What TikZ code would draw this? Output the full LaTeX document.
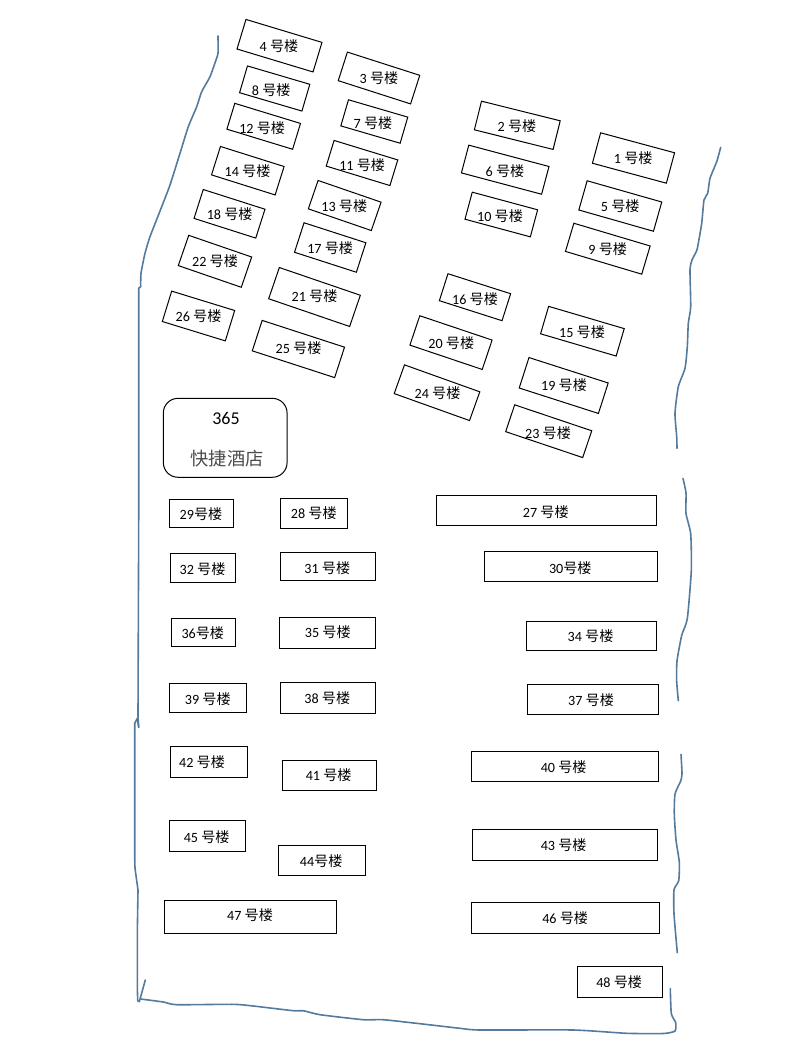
\documentclass[tikz,border=0pt]{standalone}
\usepackage{fontspec}
\setmainfont{Carlito}
\newfontfamily\cjk{Noto Sans CJK SC}
\newcommand{\hao}{{\cjk 号楼}}
\definecolor{inkblue}{HTML}{547A9E}
\tikzset{
  building/.style={draw, line width=0.75pt, inner sep=0pt},
  tag/.style={inner sep=0pt, font=\fontsize{10.6pt}{12pt}\selectfont},
  hoteltag/.style={inner sep=0pt, font=\fontsize{13.5pt}{16pt}\selectfont},
  boundary/.style={inkblue, line width=1.2pt, line join=round, line cap=round},
}

\begin{document}
\begin{tikzpicture}[x=0.75pt, y=-0.75pt]
  \useasboundingbox (0,0) rectangle (793,1057);

  % tilted buildings: name/centre/width/height/angle/label position/label
  \foreach \n/\x/\y/\w/\h/\a/\lx/\ly/\txt in {
    1/633.5/158/76.6/31.5/15.1/633.3/158.3/{1 \hao},
    2/517.3/125.3/81.1/29.5/14/517/126/{2 \hao},
    3/379/78/76/30/17.8/379/78.3/{3 \hao},
    4/279.5/45.7/79.4/30.9/16.8/279/45.7/{4 \hao},
    5/620.3/206/77.6/30.4/15.9/620.3/206.3/{5 \hao},
    6/505.2/169.7/83/28.7/14.9/505/171/{6 \hao},
    7/374.3/121.5/61.8/27.2/16.3/373/122.7/{7 \hao},
    8/274.7/88.5/65/27.9/16.4/271.3/90/{8 \hao},
    9/607.8/248.7/79.6/29.4/16.6/607.8/249.3/{9 \hao},
    10/501.3/214.5/67.7/28/15.1/500/216.3/{10 \hao},
    11/362/163/66.6/26.8/17/362.2/165/{11 \hao},
    12/263.7/126.3/68.7/27/17/262.2/127.7/{12 \hao},
    13/344.7/205.5/66.6/30/19/344.3/206/{13 \hao},
    14/247.8/170.7/66.7/29.8/17.5/247.5/171/{14 \hao},
    15/582.4/331.2/78.8/28.6/16.4/582/332/{15 \hao},
    16/475/297.2/65.8/28.3/17.7/475/299/{16 \hao},
    17/330.2/247.5/65/31/17.9/330.2/247.7/{17 \hao},
    18/229.5/213.8/64.8/30.3/17.7/229.7/214/{18 \hao},
    19/563.7/385.5/83.2/32/17.8/564/385/{19 \hao},
    20/451/342.6/76.3/31/18.6/451.3/343.3/{20 \hao},
    21/314.5/297/85.6/33/18.9/314.5/296/{21 \hao},
    22/215/261.3/66.6/32/19/215/261/{22 \hao},
    23/548.7/431.2/81.3/28.3/18.6/548/432.7/{23 \hao},
    24/437/392.7/80/30.5/19.7/437.5/393.3/{24 \hao},
    25/298.4/349/86.6/32/18/298.5/348.3/{25 \hao},
    26/198.5/316/65.9/31.8/17.1/198.5/316/{26 \hao}%
  } {
    \node [building, rotate=-\a, minimum width=\w*0.75pt, minimum height=\h*0.75pt] (b\n) at (\x,\y) {};
    \node [tag] (t\n) at (\lx,\ly) {\txt};
  }

  % straight buildings: name/left/top/right/bottom/label position/label
  \foreach \n/\l/\t/\r/\b/\lx/\ly/\txt in {
    27/436.3/495.3/656.3/525.3/545.8/511.7/{27 \hao},
    28/280.3/498.7/347.3/528.3/313.8/513.3/{28 \hao},
    29/169.3/499.3/233.3/527.3/201/514.3/{29\hao},
    30/484.3/551.3/657.3/581.3/570.3/567.7/{30\hao},
    31/280.3/552.3/375.3/580.3/327.3/568.3/{31 \hao},
    32/170.3/553.3/235.3/582.3/202.5/569/{32 \hao},
    34/526.3/621.3/656.3/650.3/590.5/636/{34 \hao},
    35/279.3/617.3/375.3/648.3/327.8/632.3/{35 \hao},
    36/171.3/618.3/235.3/646.3/202.8/632.7/{36\hao},
    37/527.3/684.3/658.3/714.3/591/700.3/{37 \hao},
    38/280.3/682.3/375.3/713.3/327.3/698.3/{38 \hao},
    39/169.3/683.3/246.3/712.3/207.8/699/{39 \hao},
    40/471.3/751.3/658.7/781.3/563.7/766.7/{40 \hao},
    41/282.3/760.3/376.3/790.3/328.7/775/{41 \hao},
    42/170.3/746.3/247.3/777.3/202/761.7/{42 \hao},
    43/472.3/829.3/657.3/860.3/563.7/845.3/{43 \hao},
    44/278.3/845.3/365.3/875.3/321.2/861.3/{44\hao},
    45/169.3/820.3/245.3/851.3/206.7/836.7/{45 \hao},
    46/471.3/902.3/659.3/933.3/565.2/917.7/{46 \hao},
    47/164.3/900.3/336.3/933.3/250/915.3/{47 \hao},
    48/577.3/966.3/662.3/997.3/619.2/981.7/{48 \hao}%
  } {
    \node [building, minimum width=(\r-\l)*0.75pt, minimum height=(\b-\t)*0.75pt] (b\n) at ({(\l+\r)/2},{(\t+\b)/2}) {};
    \node [tag] (t\n) at (\lx,\ly) {\txt};
  }

  \node [building, rounded corners=11pt, minimum width=92.8pt, minimum height=59.2pt] (hotel) at (225.2,437.8) {};
  \node [hoteltag] (hotelno) at (226,418) {365};
  \node [hoteltag, text=black!70, font=\fontsize{13.7pt}{16pt}\selectfont] (hotelname) at (227,459) {\cjk 快捷酒店};

  % hand drawn boundary
  \draw [boundary] plot [smooth, tension=0.35] coordinates {
    (218,36) (218,53.3) (216,60) (210,76.7) (201.7,91.7) (196.7,106.7) (188.3,126.7) (180,153.3)
    (170,185) (161.7,206.7) (150,236.7) (145,253.3) (141,273.3) (140.7,286.7)};
  \draw [boundary] (140.7,286.7) -- (138.7,288.3) -- (138.7,520) -- (138,716.7) -- (138.7,727.3);
  \draw [boundary] (138.7,727.3) -- (137.3,718.3) -- (134.7,723.3) -- (134.7,858.3) -- (135,868.3)
    -- (138,890) -- (137.3,933.3) -- (137.3,986.7) -- (137.7,1000.7) -- (139.3,1001.7) -- (145.3,980);
  \draw [boundary] plot [smooth, tension=0.35] coordinates {
    (140.7,999) (163.3,1002) (176.7,1004.7) (233.3,1004.3) (253.3,1006) (293.3,1010.7) (303.3,1010.7)
    (320,1014.7) (363.3,1019.7) (383.3,1019.7) (420,1023.7) (460,1028.3) (480,1030) (573.3,1030)
    (626.7,1033.3) (663.3,1033.5) (675,1031) (675.7,1022.7) (671.3,1013.5) (670.3,988.4)};
  \draw [boundary] plot [smooth, tension=0.35] coordinates {
    (720.7,147.3) (716.7,161.7) (710,178.3) (707.7,193.3) (704,200) (701.7,223.3) (698.3,243.3)
    (696.7,250.7) (692,260) (690,270) (690.7,306.7) (688.3,323.3) (687.3,346.7) (685,368.3)
    (678.3,386.7) (675,413.3) (676.7,436.7) (677,448.3)};
  \draw [boundary] plot [smooth, tension=0.35] coordinates {
    (683,478.5) (686,493) (686,513.5) (690.7,533.8) (691.3,570.7) (687.3,618.7) (681.7,635.3)
    (677,661) (676.7,681.4) (678.3,700.6)};
  \draw [boundary] plot [smooth, tension=0.35] coordinates {
    (681,754.5) (682,773.7) (680.7,781) (675,794) (674.3,814.2) (676,840) (679.3,862.2) (678.7,880.7)
    (674,889.9) (674,913.9) (677.3,952.6)};
\end{tikzpicture}
\end{document}
